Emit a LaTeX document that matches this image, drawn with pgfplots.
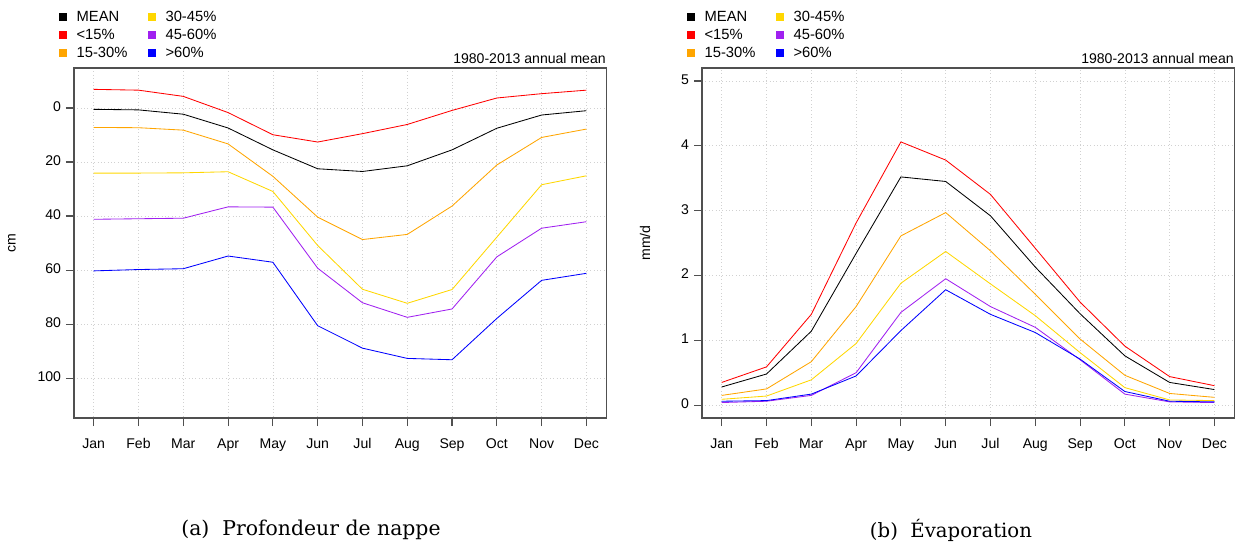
\documentclass[border=0pt]{standalone}
\usepackage{fontspec}
\usepackage{pgfplots}
\pgfplotsset{compat=1.18}
\newfontfamily\arial{Liberation Sans}
\newfontfamily\capfont{DejaVu Serif}

\definecolor{rred}{RGB}{255,0,0}
\definecolor{rorange}{RGB}{255,165,0}
\definecolor{ryellow}{RGB}{255,215,0}
\definecolor{rpurple}{RGB}{160,32,240}
\definecolor{rblue}{RGB}{0,0,255}
\definecolor{framegray}{RGB}{80,80,80}

\def\px{0.025cm}

\pgfplotsset{
  rstyle/.style={
    scale only axis,
    width=13.3cm, height=8.75cm,
    xmin=0.56, xmax=12.44,
    xtick={1,...,12},
    xticklabels={Jan,Feb,Mar,Apr,May,Jun,Jul,Aug,Sep,Oct,Nov,Dec},
    tick pos=left, tick align=outside,
    major tick length=0.2cm,
    tick style={framegray, line width=0.8pt},
    axis line style={framegray, line width=0.9pt},
    grid=major,
    major grid style={black!18, dotted, line width=0.5pt},
    ticklabel style={font=\arial\fontsize{10}{12}\selectfont},
    typeset ticklabels with strut,
    xticklabel style={yshift=-0.15cm},
    label style={font=\arial\fontsize{10}{12}\selectfont},
    /pgf/number format/assume math mode=true,
    legend columns=2,
    legend cell align=left,
    legend style={draw=none, fill=none, anchor=north west,
      font=\arial\fontsize{10.5}{12}\selectfont,
      row sep=0pt,
      /tikz/every odd column/.append style={column sep=0.17cm},
      /tikz/every even column/.append style={column sep=0.45cm}},
    every axis plot/.append style={line width=0.6pt},
  },
  legend image code/.code={\fill[#1] (0.02cm,-0.085cm) rectangle (0.19cm,0.085cm);},
}

\begin{document}
\begin{tikzpicture}
\path[use as bounding box] (0,0) rectangle (1240*\px,-548*\px);

% (a) depth to water table
\begin{axis}[rstyle,
  at={(74*\px,-68*\px)}, anchor=north west,
  y dir=reverse, ymin=-14.8, ymax=114.8,
  ytick={0,20,40,60,80,100},
  ylabel={cm},
  ylabel style={at={(rel axis cs:-0.1165,0.5)}, anchor=center},
  legend style={at={(-0.036,1.18)}},
]
\addplot[color=black] coordinates {(1,0.5)(2,0.7)(3,2.3)(4,7.4)(5,15.5)(6,22.5)(7,23.5)(8,21.4)(9,15.5)(10,7.5)(11,2.6)(12,1.0)};
\addplot[color=ryellow] coordinates {(1,24.1)(2,24.1)(3,24.0)(4,23.6)(5,30.9)(6,50.9)(7,67.1)(8,72.3)(9,67.2)(10,47.8)(11,28.4)(12,25.1)};
\addplot[color=rred] coordinates {(1,-6.9)(2,-6.6)(3,-4.3)(4,1.7)(5,9.9)(6,12.6)(7,9.5)(8,6.1)(9,0.9)(10,-3.7)(11,-5.3)(12,-6.6)};
\addplot[color=rpurple] coordinates {(1,41.2)(2,41.0)(3,40.8)(4,36.6)(5,36.7)(6,59.3)(7,72.1)(8,77.5)(9,74.4)(10,55.1)(11,44.5)(12,42.1)};
\addplot[color=rorange] coordinates {(1,7.2)(2,7.3)(3,8.2)(4,13.3)(5,25.3)(6,40.4)(7,48.7)(8,46.8)(9,36.3)(10,21.1)(11,10.9)(12,7.8)};
\addplot[color=rblue] coordinates {(1,60.3)(2,59.8)(3,59.5)(4,54.8)(5,57.1)(6,80.6)(7,88.9)(8,92.7)(9,93.2)(10,77.9)(11,63.8)(12,61.2)};
\legend{MEAN,30-45\%,<15\%,45-60\%,15-30\%,>60\%}
\end{axis}

% (b) evaporation
\begin{axis}[rstyle,
  at={(702*\px,-68*\px)}, anchor=north west,
  ymin=-0.2, ymax=5.2,
  ytick={0,1,2,3,4,5},
  ylabel={mm/d},
  ylabel style={at={(rel axis cs:-0.107,0.5)}, anchor=center},
  legend style={at={(-0.036,1.18)}},
]
\addplot[color=black] coordinates {(1,0.28)(2,0.48)(3,1.14)(4,2.34)(5,3.52)(6,3.45)(7,2.92)(8,2.13)(9,1.41)(10,0.76)(11,0.35)(12,0.24)};
\addplot[color=ryellow] coordinates {(1,0.09)(2,0.14)(3,0.39)(4,0.95)(5,1.88)(6,2.37)(7,1.87)(8,1.38)(9,0.81)(10,0.27)(11,0.08)(12,0.07)};
\addplot[color=rred] coordinates {(1,0.35)(2,0.59)(3,1.40)(4,2.81)(5,4.06)(6,3.78)(7,3.25)(8,2.42)(9,1.59)(10,0.91)(11,0.44)(12,0.30)};
\addplot[color=rpurple] coordinates {(1,0.04)(2,0.06)(3,0.15)(4,0.50)(5,1.43)(6,1.95)(7,1.52)(8,1.20)(9,0.70)(10,0.17)(11,0.05)(12,0.04)};
\addplot[color=rorange] coordinates {(1,0.15)(2,0.25)(3,0.67)(4,1.52)(5,2.61)(6,2.97)(7,2.38)(8,1.71)(9,1.02)(10,0.46)(11,0.18)(12,0.12)};
\addplot[color=rblue] coordinates {(1,0.06)(2,0.07)(3,0.17)(4,0.45)(5,1.15)(6,1.78)(7,1.40)(8,1.12)(9,0.71)(10,0.21)(11,0.06)(12,0.05)};
\legend{MEAN,30-45\%,<15\%,45-60\%,15-30\%,>60\%}
\end{axis}

\node[anchor=base east, inner sep=0pt, font=\arial\fontsize{10}{12}\selectfont] at (606*\px,-63*\px) {1980-2013 annual mean};
\node[anchor=base east, inner sep=0pt, font=\arial\fontsize{10}{12}\selectfont] at (1234*\px,-63*\px) {1980-2013 annual mean};

\node[font=\capfont\fontsize{14.5}{17}\selectfont] at (311*\px,-530*\px) {(a)\ \ Profondeur de nappe};
\node[font=\capfont\fontsize{14}{17}\selectfont] at (951*\px,-530*\px) {(b)\ \ Évaporation};
\end{tikzpicture}
\end{document}
